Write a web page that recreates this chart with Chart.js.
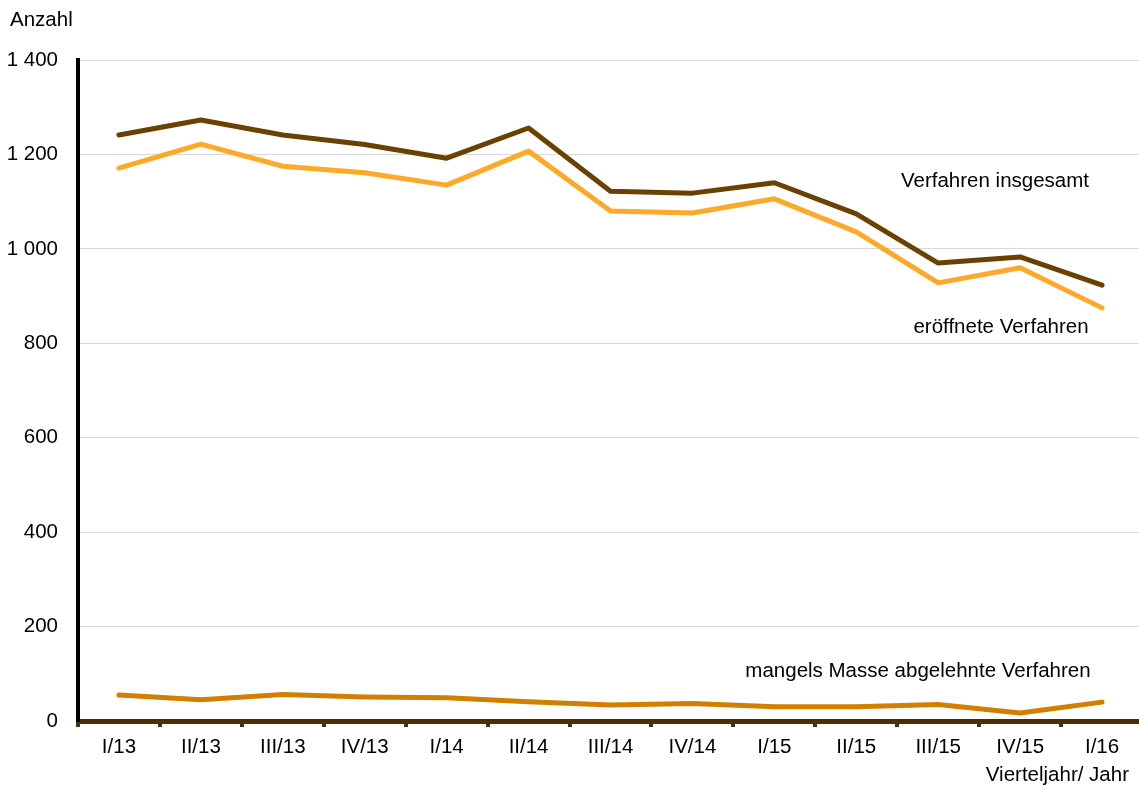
<!DOCTYPE html>
<html>
<head>
<meta charset="utf-8">
<script src="https://cdn.jsdelivr.net/npm/chart.js@4/dist/chart.umd.min.js"></script>
<style>
  html, body { margin: 0; padding: 0; background: #fff; overflow: hidden; }
  #wrap { width: 1139px; height: 789px; position: relative; overflow: hidden; }
</style>
</head>
<body>
<div id="wrap"><canvas id="insoChart" width="1143" height="789"></canvas></div>
<script>
// Kategorien (Vierteljahr/Jahr)
const quarters = ['I/13','II/13','III/13','IV/13','I/14','II/14','III/14','IV/14','I/15','II/15','III/15','IV/15','I/16'];

// Werte (Anzahl)
const insgesamt = [1241,1273,1241,1221,1192,1256,1122,1118,1140,1074,970,983,923];
const eroeffnet = [1171,1222,1175,1161,1135,1207,1080,1076,1106,1036,928,960,875];
const mangelsMasse = [55,45,56,51,49,41,34,37,30,30,35,17,40];

const yTicks = [0,200,400,600,800,1000,1200,1400];

const FONT = '"Liberation Sans", Arial, sans-serif';
const FSIZE = 20.5;

// Beschriftungen im Diagramm (Achsentitel + Reihenbeschriftungen)
const labelPlugin = {
  id: 'labels',
  afterDraw(chart){
    const c = chart.ctx;
    c.save();
    c.fillStyle = '#000';
    c.font = FSIZE + 'px ' + FONT;
    c.textBaseline = 'middle';
    c.textAlign = 'left';
    c.fillText('Anzahl', 10, 20);
    c.textAlign = 'right';
    c.fillText('Vierteljahr/ Jahr', 1129, 775);
    c.textAlign = 'center';
    c.fillText('Verfahren insgesamt', 995, 181);
    c.fillText('eröffnete Verfahren', 1001, 327);
    c.fillText('mangels Masse abgelehnte Verfahren', 918, 671);
    c.restore();
  }
};

const ds = (label, data, color) => ({
  label, data,
  borderColor: color,
  backgroundColor: color,
  borderWidth: 5,
  pointRadius: 0,
  borderCapStyle: 'round',
  borderJoinStyle: 'round',
  tension: 0,
  fill: false
});

new Chart(document.getElementById('insoChart'), {
  type: 'line',
  data: {
    labels: quarters,
    datasets: [
      ds('mangels Masse abgelehnte Verfahren', mangelsMasse, '#d27f00'),
      ds('eröffnete Verfahren', eroeffnet, '#ffa92a'),
      ds('Verfahren insgesamt', insgesamt, '#6a4100')
    ]
  },
  options: {
    responsive: false,
    animation: false,
    layout: { padding: { top: 60, left: 0, right: 0, bottom: 0 } },
    plugins: { legend: { display: false }, tooltip: { enabled: false } },
    scales: {
      x: {
        offset: true,
        grid: { offset: true, drawOnChartArea: false, drawTicks: true, tickLength: 6, color: '#4a2e06', lineWidth: 4 },
        border: { display: true, color: '#4a2e06', width: 5 },
        ticks: { color: '#000', font: { family: FONT, size: FSIZE }, padding: 8, maxRotation: 0, autoSkip: false },
        afterFit(s){ s.height = 68; }
      },
      y: {
        min: 0, max: 1400,
        afterBuildTicks(s){ s.ticks = yTicks.map(v => ({ value: v })); },
        grid: { drawTicks: false, color: '#d9d9d9', lineWidth: 1 },
        border: { display: true, color: '#000', width: 4 },
        ticks: {
          color: '#000', font: { family: FONT, size: FSIZE }, padding: 20,
          callback: v => String(v).replace(/\B(?=(\d{3})+(?!\d))/g, ' ')
        },
        afterFit(s){ s.width = 78; }
      }
    }
  },
  plugins: [labelPlugin]
});
</script>
</body>
</html>
